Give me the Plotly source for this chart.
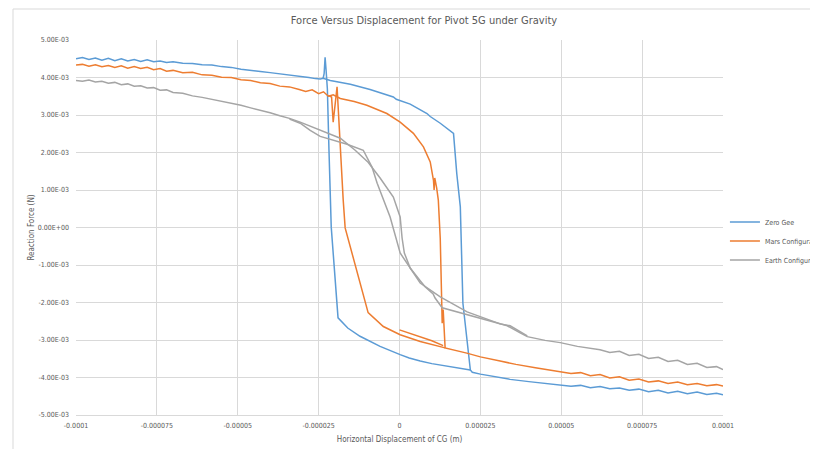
import plotly.graph_objects as go

# ---- data (x in micrometres, force in mN; converted to m and N below) ----
zero_gee_fwd_x = [-100, -98, -96, -94, -92, -90, -88, -86, -84, -82, -80, -78, -76, -74, -72, -70,
                  -67, -64, -61, -58, -55, -52, -49, -46, -43, -40, -37, -34, -31, -28,
                  -26, -24.5, -23.6, -21.4, -15.2, -9.1, -1.9, -1.0, 3.3, 8.5, 9.5, 12.6, 16.7, 17.7,
                  18.8, 19.6, 21.9, 22.5, 25, 30, 34.2, 40, 45, 49.7,
                  53, 56, 59, 62, 65, 68, 71, 74, 77, 80, 83, 86, 89, 92, 95, 98, 100]
zero_gee_fwd_y = [4.50, 4.53, 4.48, 4.52, 4.46, 4.51, 4.45, 4.50, 4.44, 4.48, 4.43, 4.47, 4.42, 4.44, 4.40, 4.42,
                  4.38, 4.37, 4.34, 4.33, 4.29, 4.27, 4.22, 4.20, 4.16, 4.13, 4.10, 4.07, 4.04, 4.00,
                  3.97, 3.96, 3.98, 3.92, 3.82, 3.68, 3.48, 3.42, 3.29, 3.04, 2.96, 2.78, 2.51, 1.44,
                  0.55, -2.02, -3.80, -3.86, -3.91, -3.99, -4.05, -4.11, -4.16, -4.19,
                  -4.23, -4.21, -4.27, -4.24, -4.30, -4.28, -4.34, -4.31, -4.38, -4.34, -4.41, -4.37,
                  -4.43, -4.39, -4.45, -4.42, -4.46]
zero_gee_ret_x = [21.9, 14.7, 10.0, 6.4, 3.0, 0.2, -6.0, -12.2, -16.0, -19.0, -21.1, -21.8, -22.3,
                  -22.7, -23.0, -23.3, -23.6]
zero_gee_ret_y = [-3.80, -3.70, -3.63, -3.56, -3.48, -3.39, -3.17, -2.90, -2.68, -2.41, 0.01, 2.06, 3.70,
                  4.20, 4.54, 4.10, 3.98]

mars_fwd_x = [-100, -98, -96, -94, -92, -90, -88, -86, -84, -82, -80, -78, -76, -74, -72, -70,
              -67, -64, -61, -58, -55, -52, -49, -46, -43, -40, -37, -34, -31,
              -29, -27, -25, -23.5, -22, -20.5, -18.3, -14, -10.1, -3.9,
              0.2, 4.3, 7.4, 9.5, 10.5, 10.7, 10.9, 11.5, 12.0, 12.6,
              13.1, 13.2, 13.5, 14.1, 20.8, 25, 31.1, 36, 42, 49.7,
              53, 56, 59, 62, 65, 68, 71, 74, 77, 80, 83, 86, 89, 92, 95, 98, 100]
mars_fwd_y = [4.33, 4.35, 4.30, 4.34, 4.29, 4.32, 4.27, 4.31, 4.25, 4.29, 4.24, 4.27, 4.21, 4.24, 4.17, 4.19,
              4.13, 4.14, 4.07, 4.06, 4.01, 4.00, 3.94, 3.92, 3.86, 3.84, 3.77, 3.75, 3.68,
              3.63, 3.67, 3.57, 3.62, 3.50, 3.54, 3.44, 3.36, 3.26, 3.04,
              2.81, 2.51, 2.15, 1.75, 1.26, 1.00, 1.32, 1.05, 0.73, -0.30,
              -1.93, -2.55, -2.19, -3.21, -3.35, -3.45, -3.56, -3.65, -3.74, -3.84,
              -3.89, -3.87, -3.95, -3.92, -4.01, -3.98, -4.07, -4.04, -4.12, -4.09, -4.16, -4.12,
              -4.19, -4.16, -4.22, -4.19, -4.23]
mars_ret_x = [14.1, 6.4, 0.2, -5.0, -9.7, -16.8, -17.4, -18.3, -19.3, -20.5, -21.0, -22.0]
mars_ret_y = [-3.21, -3.04, -2.86, -2.64, -2.27, -0.01, 0.73, 2.06, 3.75, 2.81, 3.48, 3.52]
mars_start_x = [0, 4.2, 10.0, 13.5]
mars_start_y = [-2.73, -2.86, -3.02, -3.15]

earth_fwd_x = [-100, -98, -96, -94, -92, -90, -88, -86, -84, -82, -80, -78, -76, -74, -72, -70,
               -67, -64, -61, -58, -55, -52, -49, -46, -43, -40, -37, -34,
               -30.7, -27.6, -24.5, -18.3, -13.7, -9.7, -6.0, -1.9, 0.2, 0.8, 1.5, 3.3, 6.4,
               7.9, 10.4, 11.0, 13.2, 19.7, 28.0, 33.3, 37.3, 39.5, 45, 49.7, 55,
               62, 65, 68, 71, 74, 77, 80, 83, 86, 89, 92, 95, 98, 100]
earth_fwd_y = [3.92, 3.90, 3.93, 3.88, 3.90, 3.85, 3.87, 3.81, 3.83, 3.77, 3.78, 3.72, 3.73, 3.66, 3.67, 3.60,
               3.58, 3.51, 3.47, 3.42, 3.37, 3.31, 3.26, 3.19, 3.13, 3.06, 2.98, 2.91,
               2.81, 2.70, 2.59, 2.38, 2.06, 1.74, 1.32, 0.81, 0.28, -0.28, -0.68, -1.08, -1.42,
               -1.58, -1.77, -1.88, -2.14, -2.30, -2.49, -2.62, -2.81, -2.91, -3.01, -3.07, -3.17,
               -3.26, -3.33, -3.30, -3.41, -3.38, -3.49, -3.46, -3.57, -3.54, -3.65, -3.62, -3.73,
               -3.71, -3.79]
earth_ret_x = [39.5, 34.2, 31.1, 20.9, 12.6, 6.4, 0.2, -2.9, -6.9, -8.5, -11.2, -16.2, -24.5, -27.6,
               -30.7, -34]
earth_ret_y = [-2.89, -2.62, -2.57, -2.25, -1.85, -1.48, -0.68, 0.28, 1.18, 1.61, 2.06, 2.22, 2.43, 2.59,
               2.78, 2.89]

x_tick_vals = [-100, -75, -50, -25, 0, 25, 50, 75, 100]
x_tick_text = ["-0.0001", "-0.000075", "-0.00005", "-0.000025", "0", "0.000025", "0.00005", "0.000075", "0.0001"]
y_tick_vals = [5, 4, 3, 2, 1, 0, -1, -2, -3, -4, -5]
y_tick_text = ["5.00E-03", "4.00E-03", "3.00E-03", "2.00E-03", "1.00E-03", "0.00E+00",
               "-1.00E-03", "-2.00E-03", "-3.00E-03", "-4.00E-03", "-5.00E-03"]

series_names = ["Zero Gee", "Mars Configuration", "Earth Configuration"]
series_colors = ["#5B9BD5", "#ED7D31", "#A5A5A5"]


def to_m(v):
    return [None if a is None else a * 1e-6 for a in v]


def to_n(v):
    return [None if a is None else a * 1e-3 for a in v]


def join(*segs):
    out = []
    for i, s in enumerate(segs):
        if i:
            out.append(None)
        out.extend(s)
    return out


series = [
    (join(zero_gee_fwd_x, zero_gee_ret_x), join(zero_gee_fwd_y, zero_gee_ret_y)),
    (join(mars_fwd_x, mars_ret_x, mars_start_x), join(mars_fwd_y, mars_ret_y, mars_start_y)),
    (join(earth_fwd_x, earth_ret_x), join(earth_fwd_y, earth_ret_y)),
]

FONT = "Liberation Sans Narrow, DejaVu Sans Condensed, Liberation Sans, sans-serif"
TXT = "#595959"
GRID = "#D9D9D9"

# the page body has an 8px margin, so the figure is drawn 8px right/down of the window corner
W, H = 810, 441
L, T, PW, PH = 68, 32, 647, 375

fig = go.Figure()
for (xs, ys), name, col in zip(series, series_names, series_colors):
    fig.add_trace(go.Scatter(x=to_m(xs), y=to_n(ys), mode="lines", name=name,
                             line=dict(color=col, width=1.5), connectgaps=False))

fig.update_layout(
    width=W, height=H,
    margin=dict(l=L, r=W - L - PW, t=T, b=H - T - PH, autoexpand=False),
    paper_bgcolor="white", plot_bgcolor="white",
    font=dict(family=FONT, color=TXT, size=8),
    title=dict(text="Force Versus Displacement for Pivot 5G under Gravity",
               x=416 / W, xanchor="center", xref="container",
               y=1 - 12 / H, yanchor="middle", yref="container",
               font=dict(family=FONT, size=11, color=TXT)),
    showlegend=True,
    legend=dict(x=1.003, xanchor="left", y=0.464, yanchor="middle",
                font=dict(family=FONT, size=7, color=TXT),
                itemwidth=30, bgcolor="rgba(0,0,0,0)", tracegroupgap=0),
    xaxis=dict(range=[-1e-4, 1e-4], tickvals=to_m(x_tick_vals), ticktext=x_tick_text,
               showgrid=True, gridcolor=GRID, gridwidth=1, zeroline=False,
               showline=True, linecolor=GRID, ticks="", ticklabelstandoff=4,
               tickfont=dict(size=7, color=TXT),
               title=dict(text="Horizontal Displacement of CG (m)", standoff=6,
                          font=dict(size=8, color=TXT))),
    yaxis=dict(range=[-5e-3, 5e-3], tickvals=to_n(y_tick_vals), ticktext=y_tick_text,
               showgrid=True, gridcolor=GRID, gridwidth=1, zeroline=False,
               showline=False, ticks="", ticklabelstandoff=6,
               tickfont=dict(size=7, color=TXT),
               title=dict(text="Reaction Force (N)", standoff=1,
                          font=dict(size=8, color=TXT))),
    shapes=[
        dict(type="line", xref="paper", yref="paper", x0=(5 - L) / PW, x1=(5 - L) / PW,
             y0=(T + PH - 1) / PH, y1=(T + PH - H) / PH, line=dict(color=GRID, width=1)),
        dict(type="line", xref="paper", yref="paper", x0=(5 - L) / PW, x1=(W - L) / PW,
             y0=(T + PH - 1) / PH, y1=(T + PH - 1) / PH, line=dict(color=GRID, width=1)),
    ],
)

fig.write_html("out.html")
